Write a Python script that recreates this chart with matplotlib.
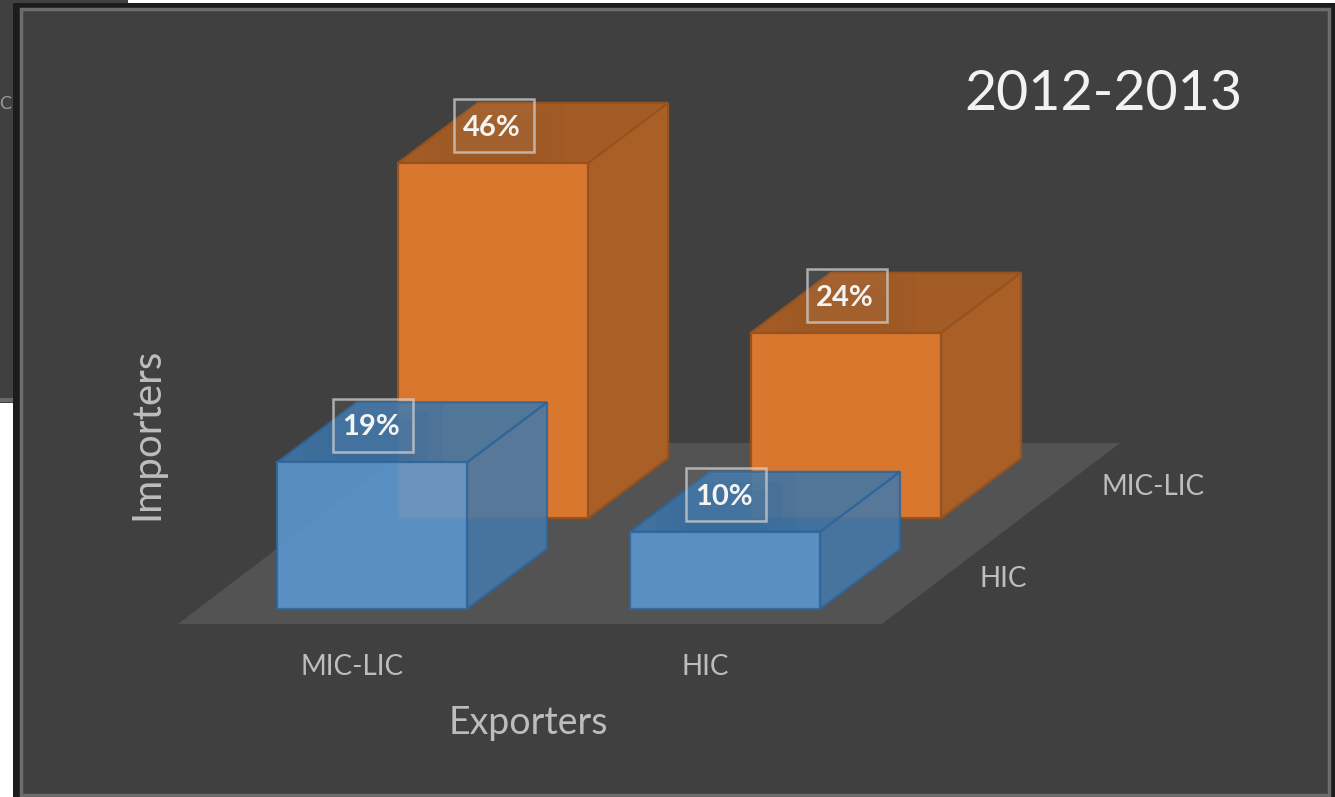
import matplotlib
matplotlib.use("Agg")
import matplotlib.pyplot as plt
from matplotlib.patches import Polygon, Rectangle

plt.rcParams["font.family"] = ["Lato", "DejaVu Sans"]

exporters = ["MIC-LIC", "HIC"]
importers = ["HIC", "MIC-LIC"]
# share of trade, rows = importers, columns = exporters
hic_importer = [19, 10]
mic_importer = [46, 24]
title = "2012-2013"

# oblique projection, all in pixels of the 1335x797 picture
X0, Y0 = 277, 609
STEP_EXPORTER = 353
STEP_IMPORTER = (121, -91)
BAR_W = 190
DEPTH = (80, -60)
PX_PER_PCT = 7.72

ORANGE = ("#da772f", "#aa5f27", "#a35c26", "#96521f")
BLUE = ("#5c98d2", "#4679aa", "#3f76a8", "#2f659a")


def draw_bar(ax, i, j, value, colors, alpha):
    x = X0 + STEP_EXPORTER * i + STEP_IMPORTER[0] * j
    y = Y0 + STEP_IMPORTER[1] * j
    top = y - value * PX_PER_PCT
    dx, dy = DEPTH
    front, side, roof, edge = colors
    side_pts = [(x + BAR_W, y), (x + BAR_W + dx, y + dy), (x + BAR_W + dx, top + dy), (x + BAR_W, top)]
    roof_pts = [(x, top), (x + BAR_W, top), (x + BAR_W + dx, top + dy), (x + dx, top + dy)]
    front_pts = [(x, y), (x + BAR_W, y), (x + BAR_W, top), (x, top)]
    ax.add_patch(Polygon(side_pts, closed=True, fc=side, ec=edge, lw=1.6, alpha=alpha))
    roof_patch = Polygon(roof_pts, closed=True, fc=roof, ec=edge, lw=1.6, alpha=alpha)
    ax.add_patch(roof_patch)
    ax.add_patch(Polygon(front_pts, closed=True, fc=front, ec=edge, lw=1.6, alpha=alpha))
    # soft shadow the label throws on the roof, kept inside the roof
    cx = x + 96
    for k, w in enumerate([70, 55, 40]):
        shade = Rectangle((cx - w, top - 58 + k * 8), 2 * w, 58 - k * 8, fc=edge, ec="none", alpha=0.12)
        ax.add_patch(shade)
        shade.set_clip_path(roof_patch)
    # label box
    cy = top - 37
    ax.add_patch(Rectangle((cx - 40, cy - 26.5), 80, 53, fc="#ffffff", ec="none", alpha=0.05))
    ax.add_patch(Rectangle((cx - 40, cy - 26.5), 80, 53, fc="none", ec="#d0d0d0", lw=1.8, alpha=0.75))
    ax.text(cx - 2, cy + 2, f"{value}%", color="#f4f4f4", fontsize=21, fontweight="bold",
            ha="center", va="center", zorder=6)


fig = plt.figure(figsize=(13.35, 7.97), dpi=100, facecolor="white")
ax = fig.add_axes([0, 0, 1, 1])
ax.set_xlim(0, 1335)
ax.set_ylim(797, 0)
ax.axis("off")

# slide behind, then chart frame
ax.add_patch(Rectangle((0, 0), 128, 403, fc="#404040", ec="none"))
ax.add_patch(Rectangle((0, 398), 14, 4, fc="#6a6a6a", ec="none"))
ax.text(5.5, 104, "C", color="#9a9a9a", fontsize=13, ha="center", va="center")
ax.add_patch(Rectangle((13, 3), 1322, 794, fc="#1c1c1e", ec="none"))
ax.add_patch(Rectangle((21, 9), 1308, 786, fc="#404040", ec="#6c6c6c", lw=2.5))

# floor
ax.add_patch(Polygon([(178, 624), (882, 624), (1120, 443), (416, 443)], closed=True, fc="#535353", ec="none"))

for i, v in enumerate(mic_importer):
    draw_bar(ax, i, 1, v, ORANGE, 1.0)
for i, v in enumerate(hic_importer):
    draw_bar(ax, i, 0, v, BLUE, 0.88)

label_color = "#bdbdbd"
for i, name in enumerate(exporters):
    ax.text(352 + STEP_EXPORTER * i, 667, name, color=label_color, fontsize=20, ha="center", va="center")
ax.text(1003, 579, importers[0], color=label_color, fontsize=20, ha="center", va="center")
ax.text(1153, 487, importers[1], color=label_color, fontsize=20, ha="center", va="center")
ax.text(528, 723, "Exporters", color=label_color, fontsize=27, ha="center", va="center")
ax.text(147, 434, "Importers", color=label_color, fontsize=29, ha="center", va="center", rotation=90)
ax.text(1103, 94, title, color="#f2f2f2", fontsize=40, ha="center", va="center")

fig.savefig("out.png", dpi=100)
